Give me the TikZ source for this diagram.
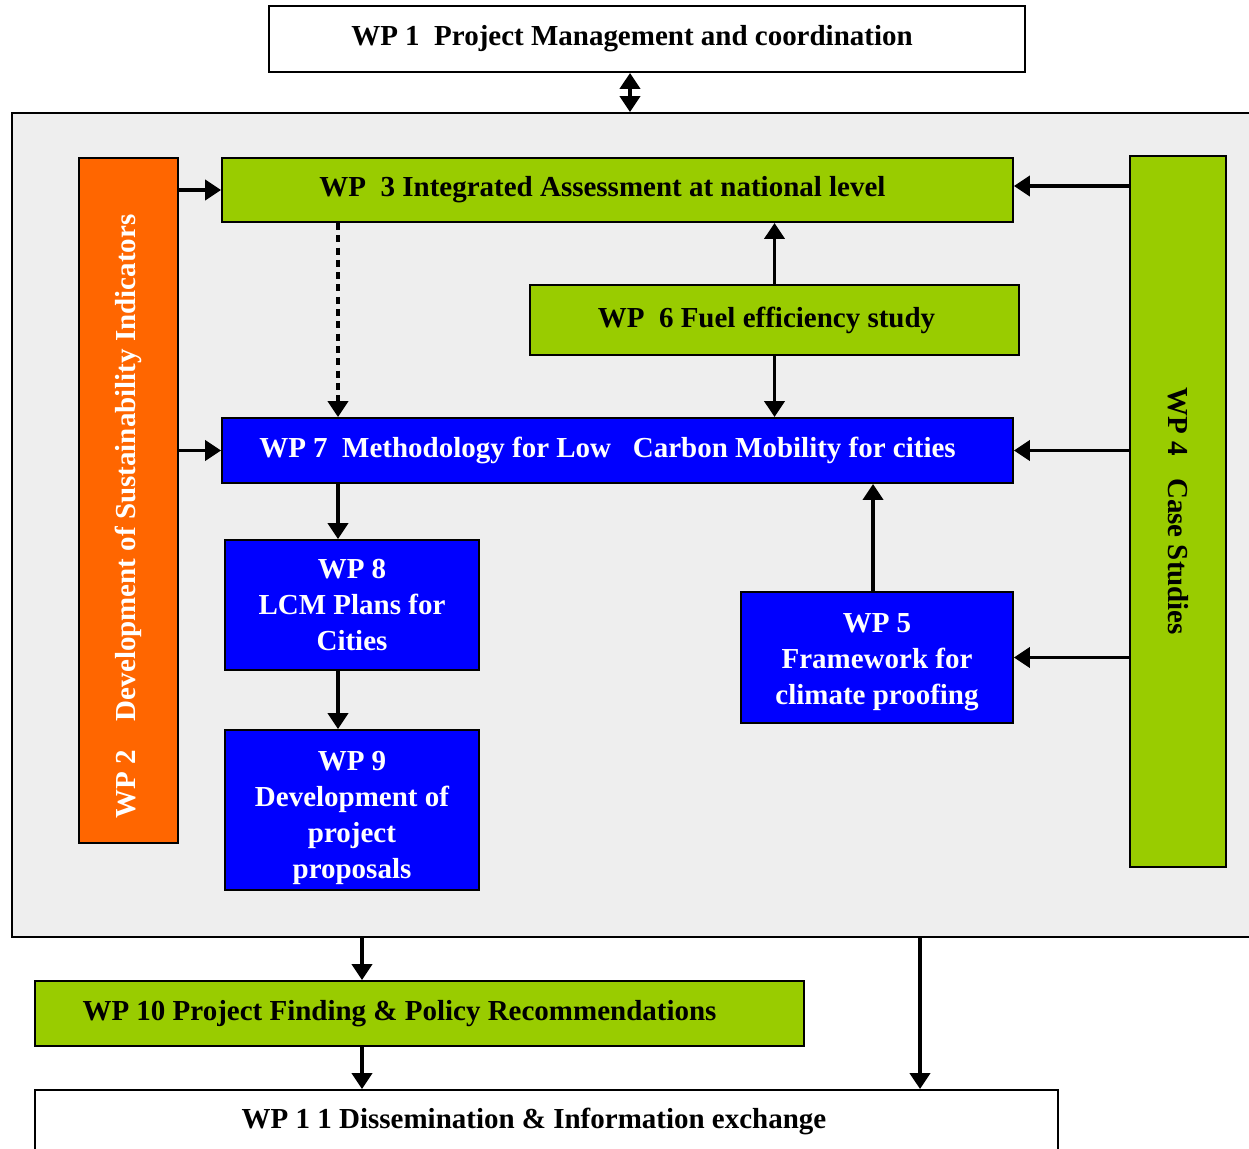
\documentclass[tikz,border=0pt]{standalone}
\usepackage{fontspec}
\setmainfont{Liberation Serif}
\usepackage{xcolor}
\definecolor{wpgreen}{RGB}{153,204,0}
\definecolor{wporange}{RGB}{255,102,0}
\definecolor{wpblue}{RGB}{0,0,255}
\definecolor{panelgray}{RGB}{238,238,238}
\usetikzlibrary{arrows.meta,calc}

\begin{document}
\begin{tikzpicture}[
  x=0.02cm, y=-0.02cm,
  wpbox/.style={draw=black, line width=1.1pt, inner sep=2pt, font=\fontsize{16.5}{20.5}\selectfont\bfseries, align=center},
  greenbox/.style={wpbox, fill=wpgreen, text=black},
  bluebox/.style={wpbox, fill=wpblue, text=white},
  whitebox/.style={wpbox, fill=white},
  orangebox/.style={wpbox, fill=wporange, text=white},
  panel/.style={draw=black, line width=1.1pt, fill=panelgray},
  link/.style={-{Triangle[length=3.2mm, width=4mm]}, line width=2.2pt},
  dashlink/.style={link, dash pattern=on 4pt off 3pt}
]
\useasboundingbox (0,0) rectangle (1249,1149);

% Outer work area
\node[panel, minimum width=25cm, minimum height=16.48cm] (frame) at (637,525) {};

% Top and bottom work packages
\node[whitebox, minimum width=15.12cm, minimum height=1.32cm] (wp1) at (647,39) {WP 1\ \ Project Management and coordination\hspace*{0.6cm}};
\node[greenbox, minimum width=15.38cm, minimum height=1.3cm] (wp10) at (419.5,1013.5) {WP 10 Project Finding \& Policy Recommendations\hspace*{0.8cm}};
\node[whitebox, minimum width=20.46cm, minimum height=1.24cm] (wp11) at (546.5,1121) {WP 1 1 Dissemination \& Information exchange\hspace*{0.5cm}};

% Side columns
\node[orangebox, rotate=90, minimum width=13.7cm, minimum height=1.98cm] (wp2) at (128.5,500.5) {WP 2\ \ \ \ Development of Sustainability Indicators\hspace*{0.64cm}};
\node[greenbox, rotate=-90, minimum width=14.22cm, minimum height=1.92cm] (wp4) at (1178,511.5) {WP 4\ \ \ Case Studies};

% Inner work packages
\node[greenbox, minimum width=15.82cm, minimum height=1.28cm] (wp3) at (617.5,190) {WP\ \ 3 Integrated Assessment at national level\hspace*{0.6cm}};
\node[greenbox, minimum width=9.78cm, minimum height=1.4cm] (wp6) at (774.5,320) {WP\ \ 6 Fuel efficiency study\hspace*{0.32cm}};
\node[bluebox, minimum width=15.82cm, minimum height=1.3cm] (wp7) at (617.5,450.5) {WP 7\ \ Methodology for Low\ \ \ Carbon Mobility for cities\hspace*{0.4cm}};
\node[bluebox, minimum width=5.08cm, minimum height=2.6cm] (wp8) at (352,605) {WP 8\\LCM Plans for\\Cities};
\node[bluebox, minimum width=5.08cm, minimum height=3.2cm] (wp9) at (352,810) {\mbox{}\\[0cm]WP 9\\Development of\\project\\proposals};
\node[bluebox, minimum width=5.44cm, minimum height=2.62cm] (wp5) at (877,657.5) {\mbox{}\\[-0.16cm]WP 5\\Framework for\\climate proofing};

% Arrow lanes
\coordinate (laneA) at (338,0);
\coordinate (laneB) at (362,0);
\coordinate (laneC) at (920,0);
\coordinate (laneD) at (630,0);
\coordinate (laneE) at (873,0);

% Connections
\draw[{Triangle[length=3.2mm, width=4mm]}-{Triangle[length=3.2mm, width=4mm]}, line width=2.2pt] (wp1.south -| laneD) -- (frame.north -| laneD);

\draw[link] (wp2.south |- wp3.west) -- (wp3.west);
\draw[link] (wp2.south |- wp7.west) -- (wp7.west);

\draw[link] (wp4.south |- 0,186) -- (wp3.east |- 0,186);
\draw[link] (wp4.south |- wp7.east) -- (wp7.east);
\draw[link] (wp4.south |- wp5.east) -- (wp5.east);

\draw[link] (wp6.north) -- (wp6.north |- wp3.south);
\draw[link] (wp6.south) -- (wp6.south |- wp7.north);
\draw[dashlink] (wp3.south -| laneA) -- (wp7.north -| laneA);
\draw[link] (wp7.south -| laneA) -- (wp8.north -| laneA);
\draw[link] (wp8.south -| laneA) -- (wp9.north -| laneA);
\draw[link] (wp5.north -| laneE) -- (wp7.south -| laneE);

\draw[link] (frame.south -| laneB) -- (wp10.north -| laneB);
\draw[link] (wp10.south -| laneB) -- (wp11.north -| laneB);
\draw[link] (frame.south -| laneC) -- (wp11.north -| laneC);

\end{tikzpicture}
\end{document}
